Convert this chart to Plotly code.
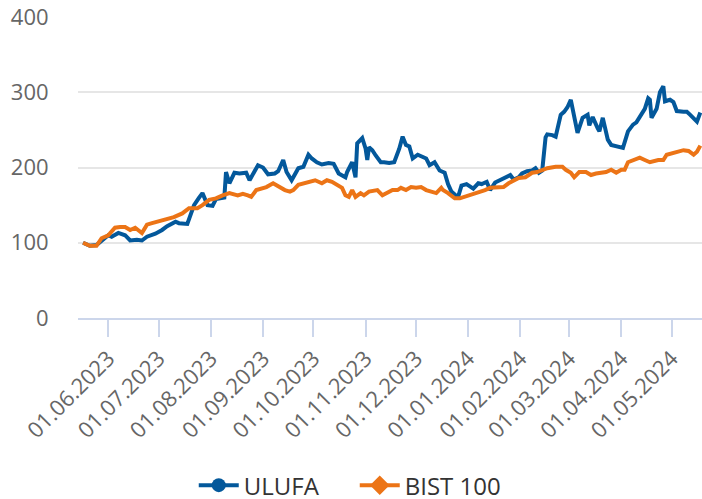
import plotly.graph_objects as go

ulufa_dates = ["2023-05-17","2023-05-21","2023-05-25","2023-05-29","2023-06-01","2023-06-03","2023-06-07","2023-06-11","2023-06-14","2023-06-18","2023-06-21","2023-06-24","2023-06-29","2023-07-03","2023-07-06","2023-07-11","2023-07-13","2023-07-18","2023-07-22","2023-07-25","2023-07-27","2023-07-30","2023-08-02","2023-08-04","2023-08-09","2023-08-10","2023-08-12","2023-08-15","2023-08-18","2023-08-22","2023-08-24","2023-08-27","2023-08-29","2023-09-01","2023-09-04","2023-09-08","2023-09-10","2023-09-13","2023-09-15","2023-09-18","2023-09-22","2023-09-25","2023-09-28","2023-09-30","2023-10-03","2023-10-06","2023-10-10","2023-10-13","2023-10-16","2023-10-20","2023-10-21","2023-10-24","2023-10-26","2023-10-27","2023-10-30","2023-11-01","2023-11-02","2023-11-03","2023-11-05","2023-11-07","2023-11-10","2023-11-12","2023-11-15","2023-11-18","2023-11-21","2023-11-23","2023-11-25","2023-11-27","2023-11-29","2023-12-02","2023-12-04","2023-12-07","2023-12-09","2023-12-12","2023-12-15","2023-12-18","2023-12-20","2023-12-22","2023-12-24","2023-12-26","2023-12-28","2023-12-31","2024-01-02","2024-01-04","2024-01-07","2024-01-09","2024-01-12","2024-01-14","2024-01-17","2024-01-20","2024-01-23","2024-01-26","2024-01-28","2024-01-31","2024-02-02","2024-02-05","2024-02-08","2024-02-10","2024-02-12","2024-02-14","2024-02-16","2024-02-17","2024-02-20","2024-02-22","2024-02-25","2024-02-27","2024-02-29","2024-03-02","2024-03-04","2024-03-06","2024-03-09","2024-03-12","2024-03-13","2024-03-15","2024-03-18","2024-03-19","2024-03-21","2024-03-24","2024-03-26","2024-03-29","2024-03-31","2024-04-02","2024-04-05","2024-04-08","2024-04-10","2024-04-12","2024-04-15","2024-04-17","2024-04-18","2024-04-19","2024-04-22","2024-04-24","2024-04-26","2024-04-27","2024-04-30","2024-05-02","2024-05-04","2024-05-08","2024-05-10","2024-05-12","2024-05-15","2024-05-16","2024-05-18"]
ulufa_values = [100,96,97,104,110,108,113,110,103,104,103,108,112,117,122,128,126,125,150,160,166,150,149,158,160,194,179,193,192,193,183,195,203,200,191,192,195,210,194,183,199,201,217,212,207,204,206,205,192,187,194,207,187,232,239,225,210,227,223,216,207,207,206,207,225,241,230,228,212,217,215,212,203,207,196,193,178,168,164,161,176,178,175,172,179,178,181,170,180,183,187,190,184,187,192,195,196,199,193,196,240,244,243,241,270,274,280,290,268,246,266,270,256,267,252,248,266,237,230,228,227,226,248,257,260,267,278,292,290,266,278,300,308,288,290,287,275,274,274,270,262,261,273]

bist_dates = ["2023-05-17","2023-05-21","2023-05-25","2023-05-28","2023-06-01","2023-06-05","2023-06-08","2023-06-11","2023-06-14","2023-06-17","2023-06-21","2023-06-24","2023-06-27","2023-06-30","2023-07-04","2023-07-07","2023-07-10","2023-07-15","2023-07-17","2023-07-19","2023-07-24","2023-07-27","2023-07-31","2023-08-04","2023-08-08","2023-08-12","2023-08-17","2023-08-20","2023-08-23","2023-08-25","2023-08-28","2023-08-31","2023-09-03","2023-09-07","2023-09-11","2023-09-14","2023-09-17","2023-09-19","2023-09-22","2023-09-26","2023-09-29","2023-10-02","2023-10-06","2023-10-09","2023-10-12","2023-10-15","2023-10-18","2023-10-20","2023-10-22","2023-10-24","2023-10-26","2023-10-29","2023-10-31","2023-11-03","2023-11-08","2023-11-11","2023-11-14","2023-11-17","2023-11-20","2023-11-22","2023-11-25","2023-11-28","2023-12-01","2023-12-04","2023-12-07","2023-12-10","2023-12-13","2023-12-16","2023-12-17","2023-12-20","2023-12-24","2023-12-27","2023-12-30","2024-01-02","2024-01-05","2024-01-08","2024-01-11","2024-01-14","2024-01-18","2024-01-22","2024-01-25","2024-01-28","2024-01-31","2024-02-04","2024-02-08","2024-02-11","2024-02-14","2024-02-17","2024-02-22","2024-02-26","2024-02-28","2024-03-02","2024-03-04","2024-03-07","2024-03-11","2024-03-14","2024-03-17","2024-03-20","2024-03-23","2024-03-26","2024-03-29","2024-04-01","2024-04-03","2024-04-05","2024-04-09","2024-04-12","2024-04-15","2024-04-18","2024-04-23","2024-04-26","2024-04-28","2024-05-01","2024-05-05","2024-05-08","2024-05-11","2024-05-14","2024-05-16","2024-05-18"]
bist_values = [100,96,96,106,110,120,121,121,117,120,113,124,126,128,130,133,134,139,143,146,146,150,157,159,163,166,163,165,163,161,170,172,174,179,174,170,168,170,177,179,181,183,179,183,181,177,173,163,161,170,161,166,163,168,170,163,166,170,170,173,170,174,173,174,170,168,166,173,170,166,159,159,161,163,166,168,170,173,173,174,179,183,186,187,193,194,197,199,201,201,197,193,187,194,194,190,192,193,194,197,193,197,197,207,210,213,210,207,210,210,217,219,221,223,222,217,221,229]

tick_dates = ["2023-06-01","2023-07-01","2023-08-01","2023-09-01","2023-10-01","2023-11-01","2023-12-01","2024-01-01","2024-02-01","2024-03-01","2024-04-01","2024-05-01"]
tick_labels = ["01.06.2023","01.07.2023","01.08.2023","01.09.2023","01.10.2023","01.11.2023","01.12.2023","01.01.2024","01.02.2024","01.03.2024","01.04.2024","01.05.2024"]
y_ticks = [0, 100, 200, 300, 400]

BLUE = "#03589b"
ORANGE = "#ec7416"
FONT = "Open Sans"

fig = go.Figure()
fig.add_trace(go.Scatter(x=ulufa_dates, y=ulufa_values, mode="lines", name="ULUFA",
                         line=dict(color=BLUE, width=4), showlegend=False))
fig.add_trace(go.Scatter(x=bist_dates, y=bist_values, mode="lines", name="BIST 100",
                         line=dict(color=ORANGE, width=4), showlegend=False))
fig.add_trace(go.Scatter(x=[None], y=[None], mode="lines+markers", name="ULUFA",
                         line=dict(color=BLUE, width=4),
                         marker=dict(symbol="circle", size=14, color=BLUE)))
fig.add_trace(go.Scatter(x=[None], y=[None], mode="lines+markers", name="BIST 100",
                         line=dict(color=ORANGE, width=4),
                         marker=dict(symbol="diamond", size=15, color=ORANGE)))

fig.update_layout(
    width=702, height=499,
    margin=dict(l=78, r=0, t=17, b=181),
    paper_bgcolor="white", plot_bgcolor="white",
    font=dict(family=FONT, color="#666666", size=22),
    showlegend=True,
    legend=dict(orientation="h", x=0.276, xanchor="left", xref="container",
                y=0.027, yanchor="middle", yref="container",
                font=dict(family=FONT, size=24, color="#333333"),
                entrywidth=106, itemwidth=40, tracegroupgap=0),
    xaxis=dict(
        type="date",
        range=["2023-05-14", "2024-05-19"],
        tickmode="array", tickvals=tick_dates, ticktext=tick_labels,
        tickangle=-45, tickfont=dict(family=FONT, size=22, color="#666666"),
        showgrid=False, zeroline=False,
        showline=True, linecolor="#ccd6eb", linewidth=2,
        ticks="outside", ticklen=17, tickwidth=2, tickcolor="#ccd6eb",
        ticklabeloverflow="allow",
    ),
    yaxis=dict(
        range=[0, 400], tickmode="array", tickvals=y_ticks,
        tickfont=dict(family=FONT, size=22, color="#666666"),
        showgrid=True, gridcolor="#e6e6e6", gridwidth=2,
        zeroline=False, showline=False,
        ticks="outside", ticklen=24, tickcolor="rgba(0,0,0,0)",
        ticklabeloverflow="allow",
    ),
)

fig.write_html(
    "out.html",
    config={"displayModeBar": False},
    post_script="document.documentElement.style.overflow='hidden';"
                "document.body.style.margin='0';document.body.style.overflow='hidden';",
)
